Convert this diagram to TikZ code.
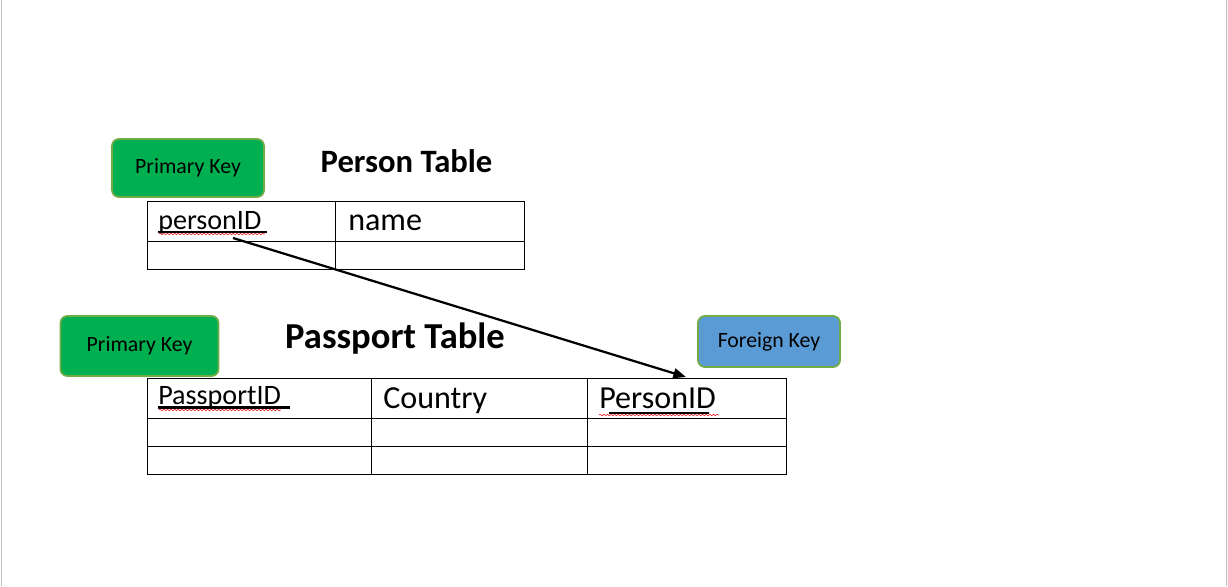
\documentclass[tikz,border=0pt]{standalone}
\usepackage{fontspec}
\setmainfont{Carlito}
\usetikzlibrary{arrows.meta, positioning, decorations.pathmorphing}
\definecolor{ink}{HTML}{000000}
\definecolor{keygreen}{HTML}{00B050}
\definecolor{keyblue}{HTML}{5B9BD5}
\definecolor{keyrim}{HTML}{70AD47}
\definecolor{spell}{HTML}{E8262A}
\definecolor{pagerule}{HTML}{C3C3C3}
\definecolor{pagewash}{HTML}{F3F3F3}
\tikzset{
  >={Triangle[length=9pt, width=7pt]},
  %
  keybox/.style={
    draw=keyrim, line width=1.3pt, fill=keygreen, rounded corners=5pt,
    inner sep=0pt, text=ink, align=center, font=\fontsize{15.5}{18}\selectfont,
  },
  keyboxb/.style={keybox, fill=keyblue},
  %
  title/.style={font=\fontsize{23.2}{27}\selectfont\bfseries, text=ink,
                inner sep=0pt, anchor=base},
  cell/.style={font=\fontsize{20}{24}\selectfont, text=ink, inner sep=0pt,
               anchor=base west},
  cellbig/.style={cell, font=\fontsize{22.8}{27}\selectfont},
  grid/.style={draw=ink, line width=0.7pt},
  %
  uline/.style={draw=ink, line width=1.9pt},
  spellwave/.style={draw=spell, line width=0.45pt,
                    decorate, decoration={snake, amplitude=0.55pt, segment length=2.6pt}},
  link/.style={draw=ink, line width=1.6pt, ->},
}
\begin{document}
\begin{tikzpicture}[x=0.025cm, y=-0.025cm]

  \useasboundingbox (0,0) rectangle (1228,586);

  % page edges
  \fill[pagewash] (1227,0) rectangle (1228,586);
  \draw[pagerule, line width=0.8pt] (1.5,0) -- (1.5,586);
  \draw[pagerule, line width=0.8pt] (1226.5,0) -- (1226.5,586);

  % =======================================================================
  % Person table
  % =======================================================================
  \node[keybox, minimum width=3.8cm, minimum height=1.45cm] (pk1) at (188,168) {Primary Key};
  \node[title] (persontitle) at (406.5,172.5) {Person Table};

  \draw[grid] (147,201) rectangle (524,269);
  \draw[grid] (335,201) -- (335,269);
  \draw[grid] (147,241) -- (524,241);

  \node[cell] (pid) at (158,229) {personID};
  \node[cellbig] (pname) at (348,230) {name};
  \draw[spellwave] (159,234) -- (265,234);
  \draw[uline] (158,232) -- (267,232);

  % =======================================================================
  % Passport table
  % =======================================================================
  \node[keybox, minimum width=3.95cm, minimum height=1.5cm] (pk2) at (139.5,346) {Primary Key};
  \node[title, font=\fontsize{26}{30}\selectfont\bfseries] (passtitle) at (395,348) {Passport Table};
  \node[keyboxb, minimum width=3.55cm, minimum height=1.275cm] (fk) at (769,341.5) {Foreign Key};

  \draw[grid] (147,378) rectangle (786,474);
  \foreach \x in {371,587} { \draw[grid] (\x,378) -- (\x,474); }
  \foreach \y in {418,446} { \draw[grid] (147,\y) -- (786,\y); }

  \node[cell] (passid) at (158,404) {PassportID};
  \node[cellbig] (country) at (383,408) {Country};
  \node[cellbig] (fkid) at (599,408) {PersonID};
  \draw[spellwave] (159,410) -- (281,410);
  \draw[uline] (158,407.5) -- (290,407.5);
  \draw[spellwave] (599,415) -- (719,415);
  \draw[uline] (609,413) -- (709,413);

  % the reference
  \coordinate (fkfrom) at (233,238);
  \coordinate (fkto) at (686,377);
  \draw[link] (fkfrom) -- (fkto);

\end{tikzpicture}
\end{document}
